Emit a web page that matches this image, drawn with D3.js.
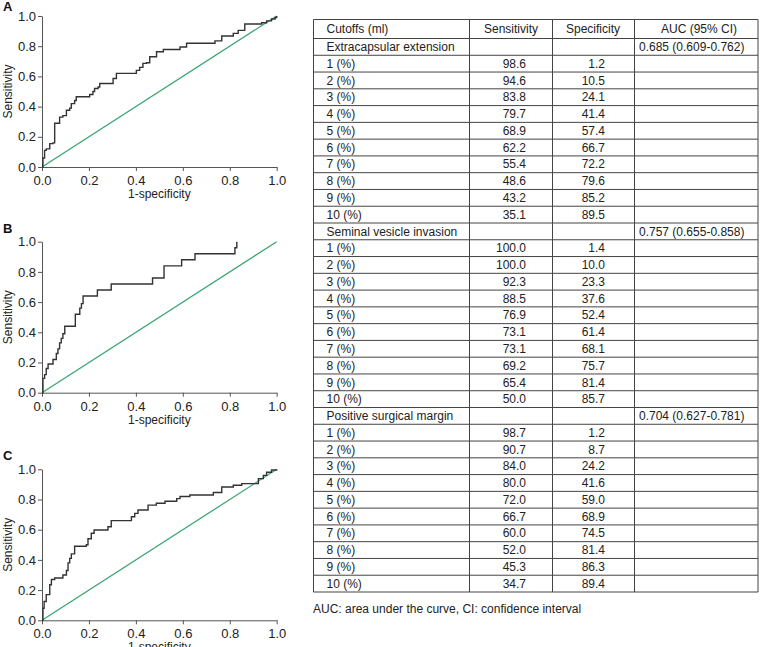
<!DOCTYPE html>
<html>
<head>
<meta charset="utf-8">
<script src="https://cdn.jsdelivr.net/npm/d3@7"></script>
<style>
  body { margin: 0; background: #fff; }
  svg { display: block; font-family: "Liberation Sans", Arial, sans-serif; }
</style>
</head>
<body>
<svg id="chart" width="760" height="647"></svg>
<script>
// ROC curves: [1-specificity, sensitivity] where sensitivity jumps
const rocA = [[0,0],[0.004,0.06],[0.011,0.11],[0.018,0.12],[0.033,0.155],[0.047,0.16],[0.054,0.29],
    [0.075,0.33],[0.089,0.34],[0.104,0.376],[0.118,0.39],[0.125,0.42],[0.139,0.44],[0.146,0.465],
    [0.203,0.48],[0.217,0.50],[0.224,0.52],[0.239,0.53],[0.246,0.553],[0.303,0.586],[0.317,0.62],
    [0.402,0.64],[0.416,0.66],[0.430,0.686],[0.445,0.69],[0.459,0.73],[0.488,0.763],[0.517,0.778],
    [0.588,0.795],[0.616,0.82],[0.737,0.835],[0.766,0.868],[0.815,0.885],[0.836,0.905],[0.864,0.947],
    [0.936,0.955],[0.957,0.968],[0.978,0.98],[0.993,0.99],[1,1]];
const rocB = [[0,0],[0.004,0.095],[0.011,0.12],[0.018,0.16],[0.026,0.19],[0.047,0.22],[0.061,0.26],
    [0.068,0.29],[0.075,0.33],[0.082,0.36],[0.089,0.39],[0.097,0.44],[0.142,0.52],[0.161,0.56],
    [0.168,0.59],[0.175,0.64],[0.236,0.68],[0.295,0.72],[0.471,0.76],[0.52,0.84],[0.595,0.88],
    [0.652,0.92],[0.822,0.96],[0.83,1.0]];
const rocC = [[0,0],[0.004,0.08],[0.009,0.125],[0.018,0.17],[0.033,0.235],[0.040,0.27],[0.054,0.28],
    [0.089,0.30],[0.104,0.33],[0.111,0.38],[0.118,0.41],[0.125,0.44],[0.139,0.49],[0.189,0.50],
    [0.196,0.54],[0.210,0.576],[0.222,0.598],[0.281,0.62],[0.295,0.66],[0.381,0.686],[0.395,0.708],
    [0.409,0.73],[0.452,0.763],[0.487,0.775],[0.524,0.788],[0.574,0.806],[0.588,0.82],[0.63,0.83],
    [0.73,0.846],[0.766,0.883],[0.815,0.894],[0.851,0.905],[0.922,0.938],[0.943,0.96],[0.957,0.98],
    [0.978,0.995],[1,1]];
const axisTicks = [0, 0.2, 0.4, 0.6, 0.8, 1.0];
const panelLabels = ["A", "B", "C"];

// table
const headers = ["Cutoffs (ml)", "Sensitivity", "Specificity", "AUC (95% CI)"];
const groups = ["Extracapsular extension", "Seminal vesicle invasion", "Positive surgical margin"];
const aucs = ["0.685 (0.609-0.762)", "0.757 (0.655-0.858)", "0.704 (0.627-0.781)"];
const cutoffs = ["1 (%)", "2 (%)", "3 (%)", "4 (%)", "5 (%)", "6 (%)", "7 (%)", "8 (%)", "9 (%)", "10 (%)"];
const sensECE = [98.6, 94.6, 83.8, 79.7, 68.9, 62.2, 55.4, 48.6, 43.2, 35.1];
const specECE = [1.2, 10.5, 24.1, 41.4, 57.4, 66.7, 72.2, 79.6, 85.2, 89.5];
const sensSVI = [100.0, 100.0, 92.3, 88.5, 76.9, 73.1, 73.1, 69.2, 65.4, 50.0];
const specSVI = [1.4, 10.0, 23.3, 37.6, 52.4, 61.4, 68.1, 75.7, 81.4, 85.7];
const sensPSM = [98.7, 90.7, 84.0, 80.0, 72.0, 66.7, 60.0, 52.0, 45.3, 34.7];
const specPSM = [1.2, 8.7, 24.2, 41.6, 59.0, 68.9, 74.5, 81.4, 86.3, 89.4];
const footnote = "AUC: area under the curve, CI: confidence interval";

const svg = d3.select("#chart");

function drawRoc(curve, label, top, labelY) {
    const left = 42, right = 276.7, h = 151;
    const x = d3.scaleLinear().domain([0, 1]).range([left, right]);
    const y = d3.scaleLinear().domain([0, 1]).range([top + h, top]);
    const g = svg.append("g");
    const fmt = d3.format(".1f");

    const ax = g.append("g")
        .attr("transform", `translate(0,${top + h})`)
        .call(d3.axisBottom(x).tickValues(axisTicks).tickFormat(fmt).tickSize(4).tickSizeOuter(0));
    const ay = g.append("g")
        .attr("transform", `translate(${left},0)`)
        .call(d3.axisLeft(y).tickValues(axisTicks).tickFormat(fmt).tickSize(4).tickSizeOuter(0));
    [ax, ay].forEach(a => {
        a.selectAll("path, line").attr("stroke", "#555");
        a.selectAll("text").attr("fill", "#222").style("font-size", "13px")
            .style("font-family", "Liberation Sans, Arial, sans-serif");
    });
    ax.selectAll("text").attr("dy", "0.85em");
    ay.selectAll("text").attr("x", -6);

    g.append("text").attr("x", (left + right) / 2).attr("y", top + h + 31)
        .attr("text-anchor", "middle").attr("fill", "#222").style("font-size", "12px").text("1-specificity");
    g.append("text").attr("transform", `translate(12,${top + h / 2}) rotate(-90)`)
        .attr("text-anchor", "middle").attr("fill", "#222").style("font-size", "12px").text("Sensitivity");
    g.append("text").attr("x", 3).attr("y", labelY + 5)
        .attr("fill", "#111").style("font-size", "13px").style("font-weight", "bold").text(label);

    g.append("path").datum([[0, 0], [1, 1]])
        .attr("fill", "none").attr("stroke", "#33a36c").attr("stroke-width", 1.2)
        .attr("d", d3.line().x(d => x(d[0])).y(d => y(d[1])));
    g.append("path").datum(curve)
        .attr("fill", "none").attr("stroke", "#333").attr("stroke-width", 1.4)
        .attr("d", d3.line().x(d => x(d[0])).y(d => y(d[1])).curve(d3.curveStepAfter));
}

drawRoc(rocA, panelLabels[0], 16, 6);
drawRoc(rocB, panelLabels[1], 241.7, 228.3);
drawRoc(rocC, panelLabels[2], 469.3, 455);

// ---- table ----
const colEdges = [313.5, 469.5, 552.5, 634.5, 758];
const headTop = 19.5, headBottom = 38.5, tableBottom = 592;

const rows = [];
[[sensECE, specECE], [sensSVI, specSVI], [sensPSM, specPSM]].forEach((pair, gi) => {
    rows.push({ label: groups[gi], sens: "", spec: "", auc: aucs[gi] });
    cutoffs.forEach((c, i) => rows.push({
        label: c, sens: pair[0][i].toFixed(1), spec: pair[1][i].toFixed(1), auc: ""
    }));
});

const rowScale = d3.scaleBand().domain(d3.range(rows.length)).range([headBottom, tableBottom]);
const tg = svg.append("g").style("font-size", "12px").attr("fill", "#222");

// horizontal lines
const hLines = [headTop, headBottom].concat(d3.range(rows.length).map(i => rowScale(i) + rowScale.bandwidth()));
tg.selectAll(".hline").data(hLines).enter().append("line")
    .attr("x1", colEdges[0]).attr("x2", colEdges[4])
    .attr("y1", d => d).attr("y2", d => d)
    .attr("stroke", "#444").attr("stroke-width", 1);
tg.selectAll(".vline").data(colEdges).enter().append("line")
    .attr("x1", d => d).attr("x2", d => d)
    .attr("y1", headTop).attr("y2", tableBottom)
    .attr("stroke", "#444").attr("stroke-width", 1);

// header
const headX = [326.5, 511, 593, 699];
tg.selectAll(".head").data(headers).enter().append("text")
    .attr("x", (d, i) => headX[i]).attr("y", (headTop + headBottom) / 2)
    .attr("dy", "0.35em").attr("text-anchor", (d, i) => i === 0 ? "start" : "middle")
    .text(d => d);

const cy = i => rowScale(i) + rowScale.bandwidth() / 2;
tg.selectAll(".lab").data(rows).enter().append("text")
    .attr("x", 326.5).attr("y", (d, i) => cy(i)).attr("dy", "0.35em").text(d => d.label);
tg.selectAll(".sens").data(rows).enter().append("text")
    .attr("x", 526).attr("y", (d, i) => cy(i)).attr("dy", "0.35em").attr("text-anchor", "end").text(d => d.sens);
tg.selectAll(".spec").data(rows).enter().append("text")
    .attr("x", 605).attr("y", (d, i) => cy(i)).attr("dy", "0.35em").attr("text-anchor", "end").text(d => d.spec);
tg.selectAll(".auc").data(rows).enter().append("text")
    .attr("x", 639).attr("y", (d, i) => cy(i)).attr("dy", "0.35em").text(d => d.auc);

svg.append("text").attr("x", 313).attr("y", 609).attr("dy", "0.35em")
    .attr("fill", "#222").style("font-size", "12px").text(footnote);
</script>
</body>
</html>
